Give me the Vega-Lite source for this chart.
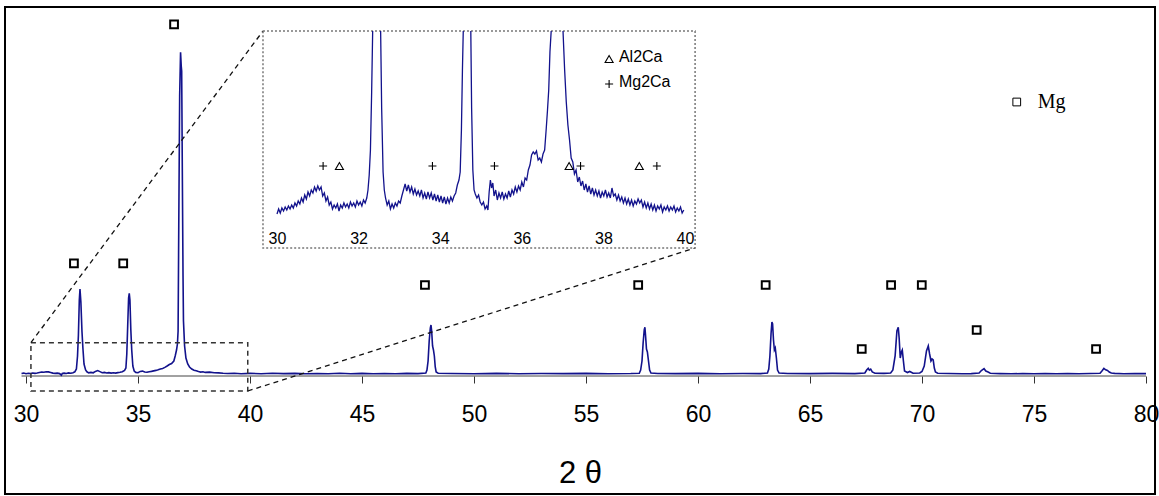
{
  "$schema": "https://vega.github.io/schema/vega-lite/v6.json",
  "width": 1150,
  "height": 487,
  "autosize": "none",
  "padding": {"left": 5, "top": 7, "right": 4, "bottom": 2},
  "background": "white",
  "config": {
    "view": {"stroke": "#000", "strokeWidth": 2},
    "font": "Liberation Sans",
    "axis": {"grid": false}
  },
  "datasets": {
    "main": [
      {"t":29.8,"i":2.5},{"t":29.9,"i":2.9},{"t":30.0,"i":2.3},{"t":30.1,"i":2.8},{"t":30.2,"i":2.4},{"t":30.3,"i":3.0},{"t":30.4,"i":2.6},{"t":30.5,"i":3.0},{"t":30.6,"i":3.5},{"t":30.7,"i":4.0},{"t":30.8,"i":3.8},{"t":30.9,"i":4.3},{"t":31.0,"i":4.1},{"t":31.1,"i":3.6},{"t":31.2,"i":2.9},{"t":31.3,"i":2.6},{"t":31.4,"i":2.9},{"t":31.5,"i":2.4},{"t":31.58,"i":0.8},{"t":31.62,"i":2.6},{"t":31.7,"i":2.9},{"t":31.8,"i":2.5},{"t":31.9,"i":3.1},{"t":32.0,"i":2.7},{"t":32.1,"i":3.3},{"t":32.18,"i":4.2},{"t":32.25,"i":7},{"t":32.3,"i":20},{"t":32.34,"i":41},{"t":32.38,"i":76},{"t":32.41,"i":87},{"t":32.45,"i":74},{"t":32.5,"i":44},{"t":32.54,"i":28},{"t":32.59,"i":12},{"t":32.66,"i":6},{"t":32.72,"i":4.2},{"t":32.8,"i":3.1},{"t":32.9,"i":3.6},{"t":33.0,"i":3.2},{"t":33.1,"i":4.6},{"t":33.2,"i":5.4},{"t":33.3,"i":4.4},{"t":33.4,"i":3.3},{"t":33.5,"i":3.6},{"t":33.6,"i":3.0},{"t":33.7,"i":3.4},{"t":33.8,"i":2.9},{"t":33.9,"i":3.3},{"t":34.0,"i":2.9},{"t":34.1,"i":3.4},{"t":34.2,"i":3.7},{"t":34.3,"i":4.3},{"t":34.4,"i":5.6},{"t":34.46,"i":8},{"t":34.5,"i":22},{"t":34.54,"i":50},{"t":34.58,"i":78},{"t":34.61,"i":82.7},{"t":34.64,"i":76},{"t":34.68,"i":46},{"t":34.72,"i":26},{"t":34.77,"i":10},{"t":34.83,"i":5},{"t":34.9,"i":3.6},{"t":35.0,"i":3.3},{"t":35.1,"i":4.6},{"t":35.2,"i":4.9},{"t":35.3,"i":4.0},{"t":35.4,"i":3.7},{"t":35.5,"i":4.3},{"t":35.6,"i":4.6},{"t":35.7,"i":5.1},{"t":35.8,"i":5.6},{"t":35.9,"i":6.2},{"t":36.0,"i":7.0},{"t":36.1,"i":7.6},{"t":36.2,"i":8.6},{"t":36.3,"i":10},{"t":36.4,"i":11.5},{"t":36.5,"i":12.5},{"t":36.6,"i":15},{"t":36.66,"i":20},{"t":36.72,"i":26},{"t":36.76,"i":32},{"t":36.79,"i":45},{"t":36.82,"i":150},{"t":36.86,"i":280},{"t":36.9,"i":323.7},{"t":36.93,"i":310},{"t":36.95,"i":305},{"t":36.98,"i":200},{"t":37.01,"i":100},{"t":37.03,"i":55},{"t":37.08,"i":30},{"t":37.14,"i":18},{"t":37.22,"i":12},{"t":37.3,"i":9},{"t":37.4,"i":7},{"t":37.5,"i":5.8},{"t":37.6,"i":5.2},{"t":37.7,"i":4.4},{"t":37.8,"i":3.9},{"t":37.9,"i":4.2},{"t":38.0,"i":3.6},{"t":38.2,"i":3.9},{"t":38.4,"i":3.3},{"t":38.6,"i":3.1},{"t":38.8,"i":2.7},{"t":39.0,"i":2.5},{"t":39.3,"i":2.8},{"t":39.6,"i":2.3},{"t":40.0,"i":2.6},{"t":40.5,"i":2.3},{"t":41.0,"i":2.7},{"t":41.5,"i":2.4},{"t":42.0,"i":2.6},{"t":42.5,"i":2.2},{"t":43.0,"i":2.5},{"t":43.5,"i":2.3},{"t":44.0,"i":2.7},{"t":44.5,"i":2.3},{"t":45.0,"i":2.6},{"t":45.5,"i":2.2},{"t":46.0,"i":2.5},{"t":46.5,"i":2.3},{"t":47.0,"i":2.6},{"t":47.5,"i":2.4},{"t":47.85,"i":3},{"t":47.9,"i":6},{"t":47.95,"i":15},{"t":48.0,"i":35},{"t":48.05,"i":48},{"t":48.08,"i":51},{"t":48.11,"i":45},{"t":48.15,"i":30},{"t":48.19,"i":26},{"t":48.23,"i":20},{"t":48.27,"i":9},{"t":48.31,"i":4},{"t":48.4,"i":2.8},{"t":49.0,"i":2.5},{"t":50.0,"i":2.3},{"t":51.0,"i":2.6},{"t":52.0,"i":2.3},{"t":53.0,"i":2.5},{"t":54.0,"i":2.4},{"t":55.0,"i":2.6},{"t":56.0,"i":2.3},{"t":57.0,"i":2.5},{"t":57.38,"i":2.8},{"t":57.44,"i":6},{"t":57.5,"i":15},{"t":57.55,"i":33},{"t":57.6,"i":46},{"t":57.63,"i":48.7},{"t":57.66,"i":40},{"t":57.7,"i":27},{"t":57.74,"i":24},{"t":57.79,"i":15},{"t":57.84,"i":6},{"t":57.9,"i":3},{"t":58.2,"i":2.5},{"t":59.0,"i":2.4},{"t":60.0,"i":2.6},{"t":61.0,"i":2.3},{"t":62.0,"i":2.5},{"t":62.8,"i":2.4},{"t":63.1,"i":3},{"t":63.16,"i":7},{"t":63.21,"i":20},{"t":63.26,"i":42},{"t":63.3,"i":54},{"t":63.33,"i":52},{"t":63.37,"i":36},{"t":63.41,"i":26},{"t":63.45,"i":28},{"t":63.5,"i":18},{"t":63.55,"i":6},{"t":63.62,"i":3},{"t":64.0,"i":2.5},{"t":65.0,"i":2.4},{"t":66.0,"i":2.6},{"t":67.0,"i":2.4},{"t":67.45,"i":3},{"t":67.53,"i":6},{"t":67.6,"i":7.7},{"t":67.65,"i":5.8},{"t":67.71,"i":6.8},{"t":67.78,"i":4},{"t":67.9,"i":2.8},{"t":68.3,"i":2.6},{"t":68.6,"i":3},{"t":68.7,"i":6},{"t":68.8,"i":20},{"t":68.88,"i":45},{"t":68.94,"i":48.7},{"t":68.98,"i":38},{"t":69.03,"i":18},{"t":69.08,"i":24},{"t":69.12,"i":26},{"t":69.17,"i":15},{"t":69.22,"i":5},{"t":69.35,"i":3.5},{"t":69.45,"i":4.5},{"t":69.52,"i":3.8},{"t":69.6,"i":2.8},{"t":69.9,"i":3},{"t":70.0,"i":4.5},{"t":70.1,"i":10},{"t":70.2,"i":25},{"t":70.28,"i":30},{"t":70.34,"i":22},{"t":70.4,"i":15},{"t":70.45,"i":17},{"t":70.5,"i":16},{"t":70.55,"i":8},{"t":70.6,"i":4},{"t":70.7,"i":2.8},{"t":71.2,"i":2.5},{"t":71.8,"i":2.2},{"t":72.2,"i":2.4},{"t":72.55,"i":3},{"t":72.65,"i":5.5},{"t":72.77,"i":7.3},{"t":72.85,"i":5},{"t":72.95,"i":4},{"t":73.05,"i":2.8},{"t":73.5,"i":2.4},{"t":74.0,"i":2.2},{"t":74.5,"i":2.5},{"t":75.0,"i":2.2},{"t":75.5,"i":2.5},{"t":76.0,"i":2.3},{"t":76.5,"i":2.4},{"t":77.0,"i":2.2},{"t":77.5,"i":2.5},{"t":77.95,"i":2.8},{"t":78.05,"i":5.5},{"t":78.12,"i":7.7},{"t":78.2,"i":6.2},{"t":78.28,"i":5.5},{"t":78.36,"i":4},{"t":78.45,"i":3},{"t":78.6,"i":2.6},{"t":79.0,"i":2.3},{"t":79.5,"i":2.5},{"t":80.0,"i":2.4}
    ],
    "squares": [
      {"t":32.14,"i":112.7},{"t":34.34,"i":112.7},{"t":36.61,"i":351.7},{"t":47.81,"i":91},{"t":57.33,"i":91},{"t":63.02,"i":91},{"t":67.31,"i":27},{"t":68.62,"i":91},{"t":69.99,"i":91},{"t":72.44,"i":46},{"t":77.77,"i":27}
    ],
    "baseline": [{"t":29.8,"t2":80,"i":0}],
    "zoombox": [{"t":30.22,"t2":39.9,"i":33.3,"i2":-15}],
    "insetbox": [{"t":40.58,"t2":59.87,"i":345,"i2":128}],
    "connectors": [
      {"t":30.22,"t2":40.58,"i":33.3,"i2":345},
      {"t":39.9,"t2":59.87,"i":-15,"i2":128}
    ],
    "mglegend": [{"t":74.23,"i":274,"label":"Mg"}],
    "inset": [
      {"seg":1,"t":30.00,"i":6},{"seg":1,"t":30.04,"i":11},{"seg":1,"t":30.08,"i":7},{"seg":1,"t":30.12,"i":12},{"seg":1,"t":30.16,"i":9},{"seg":1,"t":30.20,"i":13},{"seg":1,"t":30.24,"i":10},{"seg":1,"t":30.28,"i":14},{"seg":1,"t":30.32,"i":11},{"seg":1,"t":30.36,"i":15},{"seg":1,"t":30.40,"i":12},{"seg":1,"t":30.44,"i":17},{"seg":1,"t":30.48,"i":14},{"seg":1,"t":30.52,"i":19},{"seg":1,"t":30.56,"i":16},{"seg":1,"t":30.60,"i":22},{"seg":1,"t":30.64,"i":18},{"seg":1,"t":30.68,"i":25},{"seg":1,"t":30.72,"i":21},{"seg":1,"t":30.76,"i":28},{"seg":1,"t":30.80,"i":24},{"seg":1,"t":30.84,"i":30},{"seg":1,"t":30.88,"i":27},{"seg":1,"t":30.92,"i":33},{"seg":1,"t":30.96,"i":29},{"seg":1,"t":31.00,"i":34},{"seg":1,"t":31.04,"i":30},{"seg":1,"t":31.08,"i":33},{"seg":1,"t":31.12,"i":24},{"seg":1,"t":31.16,"i":27},{"seg":1,"t":31.20,"i":19},{"seg":1,"t":31.24,"i":23},{"seg":1,"t":31.28,"i":15},{"seg":1,"t":31.32,"i":18},{"seg":1,"t":31.36,"i":11},{"seg":1,"t":31.40,"i":15},{"seg":1,"t":31.44,"i":12},{"seg":1,"t":31.48,"i":16},{"seg":1,"t":31.52,"i":9},{"seg":1,"t":31.56,"i":15},{"seg":1,"t":31.60,"i":12},{"seg":1,"t":31.64,"i":17},{"seg":1,"t":31.68,"i":13},{"seg":1,"t":31.72,"i":16},{"seg":1,"t":31.76,"i":12},{"seg":1,"t":31.80,"i":18},{"seg":1,"t":31.84,"i":14},{"seg":1,"t":31.88,"i":17},{"seg":1,"t":31.92,"i":13},{"seg":1,"t":31.96,"i":19},{"seg":1,"t":32.00,"i":15},{"seg":1,"t":32.04,"i":18},{"seg":1,"t":32.08,"i":14},{"seg":1,"t":32.12,"i":20},{"seg":1,"t":32.16,"i":17},{"seg":1,"t":32.20,"i":22},{"seg":1,"t":32.23,"i":30},{"seg":1,"t":32.26,"i":45},{"seg":1,"t":32.29,"i":70},{"seg":1,"t":32.32,"i":128},{"seg":1,"t":32.345,"i":189},
      {"seg":2,"t":32.54,"i":189},{"seg":2,"t":32.565,"i":112},{"seg":2,"t":32.60,"i":48},{"seg":2,"t":32.63,"i":30},{"seg":2,"t":32.66,"i":22},{"seg":2,"t":32.70,"i":15},{"seg":2,"t":32.74,"i":19},{"seg":2,"t":32.78,"i":11},{"seg":2,"t":32.82,"i":16},{"seg":2,"t":32.86,"i":12},{"seg":2,"t":32.90,"i":17},{"seg":2,"t":32.94,"i":14},{"seg":2,"t":32.98,"i":19},{"seg":2,"t":33.02,"i":17},{"seg":2,"t":33.06,"i":24},{"seg":2,"t":33.10,"i":30},{"seg":2,"t":33.14,"i":36},{"seg":2,"t":33.18,"i":29},{"seg":2,"t":33.22,"i":35},{"seg":2,"t":33.26,"i":28},{"seg":2,"t":33.30,"i":33},{"seg":2,"t":33.34,"i":26},{"seg":2,"t":33.38,"i":31},{"seg":2,"t":33.42,"i":25},{"seg":2,"t":33.46,"i":29},{"seg":2,"t":33.50,"i":24},{"seg":2,"t":33.54,"i":30},{"seg":2,"t":33.58,"i":22},{"seg":2,"t":33.62,"i":27},{"seg":2,"t":33.66,"i":21},{"seg":2,"t":33.70,"i":28},{"seg":2,"t":33.74,"i":22},{"seg":2,"t":33.78,"i":27},{"seg":2,"t":33.82,"i":20},{"seg":2,"t":33.86,"i":26},{"seg":2,"t":33.90,"i":19},{"seg":2,"t":33.94,"i":25},{"seg":2,"t":33.98,"i":18},{"seg":2,"t":34.02,"i":24},{"seg":2,"t":34.06,"i":17},{"seg":2,"t":34.10,"i":23},{"seg":2,"t":34.14,"i":16},{"seg":2,"t":34.18,"i":22},{"seg":2,"t":34.22,"i":17},{"seg":2,"t":34.26,"i":23},{"seg":2,"t":34.30,"i":19},{"seg":2,"t":34.34,"i":24},{"seg":2,"t":34.38,"i":27},{"seg":2,"t":34.42,"i":35},{"seg":2,"t":34.46,"i":40},{"seg":2,"t":34.49,"i":48},{"seg":2,"t":34.52,"i":90},{"seg":2,"t":34.545,"i":150},{"seg":2,"t":34.565,"i":189},
      {"seg":3,"t":34.75,"i":189},{"seg":3,"t":34.77,"i":112},{"seg":3,"t":34.80,"i":50},{"seg":3,"t":34.83,"i":30},{"seg":3,"t":34.86,"i":26},{"seg":3,"t":34.90,"i":22},{"seg":3,"t":34.94,"i":25},{"seg":3,"t":34.98,"i":18},{"seg":3,"t":35.02,"i":15},{"seg":3,"t":35.06,"i":18},{"seg":3,"t":35.10,"i":11},{"seg":3,"t":35.14,"i":14},{"seg":3,"t":35.17,"i":10},{"seg":3,"t":35.20,"i":28},{"seg":3,"t":35.23,"i":40},{"seg":3,"t":35.26,"i":32},{"seg":3,"t":35.29,"i":37},{"seg":3,"t":35.32,"i":24},{"seg":3,"t":35.36,"i":30},{"seg":3,"t":35.40,"i":20},{"seg":3,"t":35.44,"i":27},{"seg":3,"t":35.48,"i":22},{"seg":3,"t":35.52,"i":28},{"seg":3,"t":35.56,"i":21},{"seg":3,"t":35.60,"i":26},{"seg":3,"t":35.64,"i":22},{"seg":3,"t":35.68,"i":29},{"seg":3,"t":35.72,"i":23},{"seg":3,"t":35.76,"i":30},{"seg":3,"t":35.80,"i":26},{"seg":3,"t":35.84,"i":33},{"seg":3,"t":35.88,"i":28},{"seg":3,"t":35.92,"i":34},{"seg":3,"t":35.96,"i":30},{"seg":3,"t":36.00,"i":38},{"seg":3,"t":36.04,"i":33},{"seg":3,"t":36.08,"i":42},{"seg":3,"t":36.12,"i":40},{"seg":3,"t":36.16,"i":50},{"seg":3,"t":36.20,"i":55},{"seg":3,"t":36.24,"i":65},{"seg":3,"t":36.28,"i":68},{"seg":3,"t":36.32,"i":66},{"seg":3,"t":36.36,"i":69},{"seg":3,"t":36.40,"i":60},{"seg":3,"t":36.44,"i":62},{"seg":3,"t":36.48,"i":58},{"seg":3,"t":36.52,"i":66},{"seg":3,"t":36.56,"i":70},{"seg":3,"t":36.60,"i":92},{"seg":3,"t":36.63,"i":110},{"seg":3,"t":36.66,"i":130},{"seg":3,"t":36.69,"i":168},{"seg":3,"t":36.72,"i":189},
      {"seg":4,"t":37.01,"i":189},{"seg":4,"t":37.05,"i":150},{"seg":4,"t":37.09,"i":118},{"seg":4,"t":37.13,"i":95},{"seg":4,"t":37.17,"i":80},{"seg":4,"t":37.21,"i":62},{"seg":4,"t":37.25,"i":58},{"seg":4,"t":37.29,"i":46},{"seg":4,"t":37.33,"i":50},{"seg":4,"t":37.37,"i":38},{"seg":4,"t":37.41,"i":43},{"seg":4,"t":37.45,"i":34},{"seg":4,"t":37.49,"i":39},{"seg":4,"t":37.53,"i":30},{"seg":4,"t":37.57,"i":36},{"seg":4,"t":37.61,"i":28},{"seg":4,"t":37.65,"i":34},{"seg":4,"t":37.69,"i":26},{"seg":4,"t":37.73,"i":32},{"seg":4,"t":37.77,"i":25},{"seg":4,"t":37.81,"i":30},{"seg":4,"t":37.85,"i":24},{"seg":4,"t":37.89,"i":29},{"seg":4,"t":37.93,"i":22},{"seg":4,"t":37.97,"i":28},{"seg":4,"t":38.01,"i":24},{"seg":4,"t":38.05,"i":30},{"seg":4,"t":38.09,"i":23},{"seg":4,"t":38.13,"i":27},{"seg":4,"t":38.17,"i":22},{"seg":4,"t":38.21,"i":32},{"seg":4,"t":38.25,"i":24},{"seg":4,"t":38.29,"i":26},{"seg":4,"t":38.33,"i":20},{"seg":4,"t":38.37,"i":25},{"seg":4,"t":38.41,"i":19},{"seg":4,"t":38.45,"i":23},{"seg":4,"t":38.49,"i":17},{"seg":4,"t":38.53,"i":22},{"seg":4,"t":38.57,"i":16},{"seg":4,"t":38.61,"i":21},{"seg":4,"t":38.65,"i":15},{"seg":4,"t":38.69,"i":20},{"seg":4,"t":38.73,"i":14},{"seg":4,"t":38.77,"i":19},{"seg":4,"t":38.81,"i":16},{"seg":4,"t":38.85,"i":21},{"seg":4,"t":38.89,"i":17},{"seg":4,"t":38.93,"i":20},{"seg":4,"t":38.97,"i":13},{"seg":4,"t":39.01,"i":18},{"seg":4,"t":39.05,"i":12},{"seg":4,"t":39.09,"i":17},{"seg":4,"t":39.13,"i":11},{"seg":4,"t":39.17,"i":16},{"seg":4,"t":39.21,"i":10},{"seg":4,"t":39.25,"i":15},{"seg":4,"t":39.29,"i":9},{"seg":4,"t":39.33,"i":14},{"seg":4,"t":39.37,"i":11},{"seg":4,"t":39.41,"i":15},{"seg":4,"t":39.45,"i":8},{"seg":4,"t":39.49,"i":13},{"seg":4,"t":39.53,"i":10},{"seg":4,"t":39.57,"i":14},{"seg":4,"t":39.61,"i":9},{"seg":4,"t":39.65,"i":13},{"seg":4,"t":39.69,"i":10},{"seg":4,"t":39.73,"i":14},{"seg":4,"t":39.77,"i":8},{"seg":4,"t":39.81,"i":12},{"seg":4,"t":39.85,"i":9},{"seg":4,"t":39.89,"i":13},{"seg":4,"t":39.93,"i":7},{"seg":4,"t":39.97,"i":10}
    ],
    "phases": [
      {"t":31.13,"i":54,"phase":"Mg2Ca"},{"t":33.81,"i":54,"phase":"Mg2Ca"},{"t":35.33,"i":54,"phase":"Mg2Ca"},{"t":37.44,"i":54,"phase":"Mg2Ca"},{"t":39.31,"i":54,"phase":"Mg2Ca"},
      {"t":31.53,"i":54,"phase":"Al2Ca"},{"t":37.16,"i":54,"phase":"Al2Ca"},{"t":38.88,"i":54,"phase":"Al2Ca"},
      {"t":38.14,"i":161,"phase":"Al2Ca"},{"t":38.14,"i":136,"phase":"Mg2Ca"}
    ],
    "phaselabels": [{"label":"Al2Ca","t":38.38,"i":163},{"label":"Mg2Ca","t":38.38,"i":138}]
  },
  "layer": [
    {
      "encoding": {
        "x": {"field": "t", "type": "quantitative",
          "scale": {"domain": [29.0625, 80.4018], "nice": false, "zero": false},
          "axis": {"orient": "bottom", "offset": -118, "values": [30,35,40,45,50,55,60,65,70,75,80],
            "domain": false, "ticks": true, "tickSize": 7, "tickColor": "#333", "tickWidth": 1,
            "labelFont": "Liberation Sans", "labelFontSize": 23, "labelColor": "#000",
            "labelPadding": 31, "labelBaseline": "middle", "labelFlush": false, "labelOverlap": false,
            "title": "2 θ", "titleFont": "Liberation Sans Narrow, Liberation Sans, sans-serif", "titleFontSize": 31,
            "titleFontWeight": "normal", "titleColor": "#000", "titleY": 97, "titleBaseline": "middle"}},
        "y": {"field": "i", "type": "quantitative",
          "scale": {"domain": [-118, 369], "nice": false, "zero": false}, "axis": null}
      },
      "layer": [
        {
          "data": {"name": "baseline"},
          "mark": {"type": "rule", "color": "#444", "strokeWidth": 1},
          "encoding": {"x2": {"field": "t2"}}
        },
        {
          "data": {"name": "main"},
          "mark": {"type": "line", "color": "#12128c", "strokeWidth": 1.6}
        },
        {
          "data": {"name": "squares"},
          "mark": {"type": "point", "shape": "square", "filled": false, "stroke": "#000", "strokeWidth": 2, "size": 60, "opacity": 1}
        },
        {
          "data": {"name": "mglegend"},
          "mark": {"type": "point", "shape": "square", "filled": false, "stroke": "#000", "strokeWidth": 1, "size": 60, "opacity": 1}
        },
        {
          "data": {"name": "mglegend"},
          "mark": {"type": "text", "font": "Liberation Serif", "fontSize": 20, "align": "left", "baseline": "middle", "dx": 21, "color": "#000"},
          "encoding": {"text": {"field": "label"}}
        },
        {
          "data": {"name": "zoombox"},
          "mark": {"type": "rect", "filled": false, "stroke": "#333", "strokeWidth": 1.5, "strokeDash": [5, 4]},
          "encoding": {"x2": {"field": "t2"}, "y2": {"field": "i2"}}
        },
        {
          "data": {"name": "connectors"},
          "mark": {"type": "rule", "color": "#111", "strokeWidth": 1.3, "strokeDash": [5, 4]},
          "encoding": {"x2": {"field": "t2"}, "y2": {"field": "i2"}}
        },
        {
          "data": {"name": "insetbox"},
          "mark": {"type": "rect", "filled": false, "stroke": "#777", "strokeWidth": 1.5, "strokeDash": [2, 2]},
          "encoding": {"x2": {"field": "t2"}, "y2": {"field": "i2"}}
        }
      ]
    },
    {
      "encoding": {
        "x": {"field": "t", "type": "quantitative",
          "scale": {"domain": [23.3333, 51.5196], "nice": false, "zero": false},
          "axis": {"orient": "bottom", "offset": -263, "values": [30,32,34,36,38,40],
            "domain": false, "ticks": false, "tickSize": 0,
            "labelFont": "Liberation Sans", "labelFontSize": 16, "labelColor": "#000",
            "labelPadding": 7, "labelBaseline": "middle", "labelFlush": false, "labelOverlap": false,
            "title": null}},
        "y": {"field": "i", "type": "quantitative",
          "scale": {"domain": [-274, 213], "nice": false, "zero": false}, "axis": null}
      },
      "layer": [
        {
          "data": {"name": "inset"},
          "mark": {"type": "line", "color": "#12128c", "strokeWidth": 1.3},
          "encoding": {"detail": {"field": "seg", "type": "nominal"}}
        },
        {
          "data": {"name": "phases"},
          "mark": {"type": "point", "filled": false, "stroke": "#000", "strokeWidth": 1.1, "opacity": 1, "size": 64},
          "encoding": {
            "shape": {"field": "phase", "type": "nominal", "legend": null,
              "scale": {"domain": ["Al2Ca", "Mg2Ca"], "range": ["triangle-up", "M-1,0L1,0M0,-1L0,1"]}}
          }
        },
        {
          "data": {"name": "phaselabels"},
          "mark": {"type": "text", "font": "Liberation Sans", "fontSize": 16, "align": "left", "baseline": "middle", "color": "#000"},
          "encoding": {"text": {"field": "label"}}
        }
      ]
    }
  ],
  "resolve": {"scale": {"x": "independent", "y": "independent"}, "axis": {"x": "independent", "y": "independent"}}
}
